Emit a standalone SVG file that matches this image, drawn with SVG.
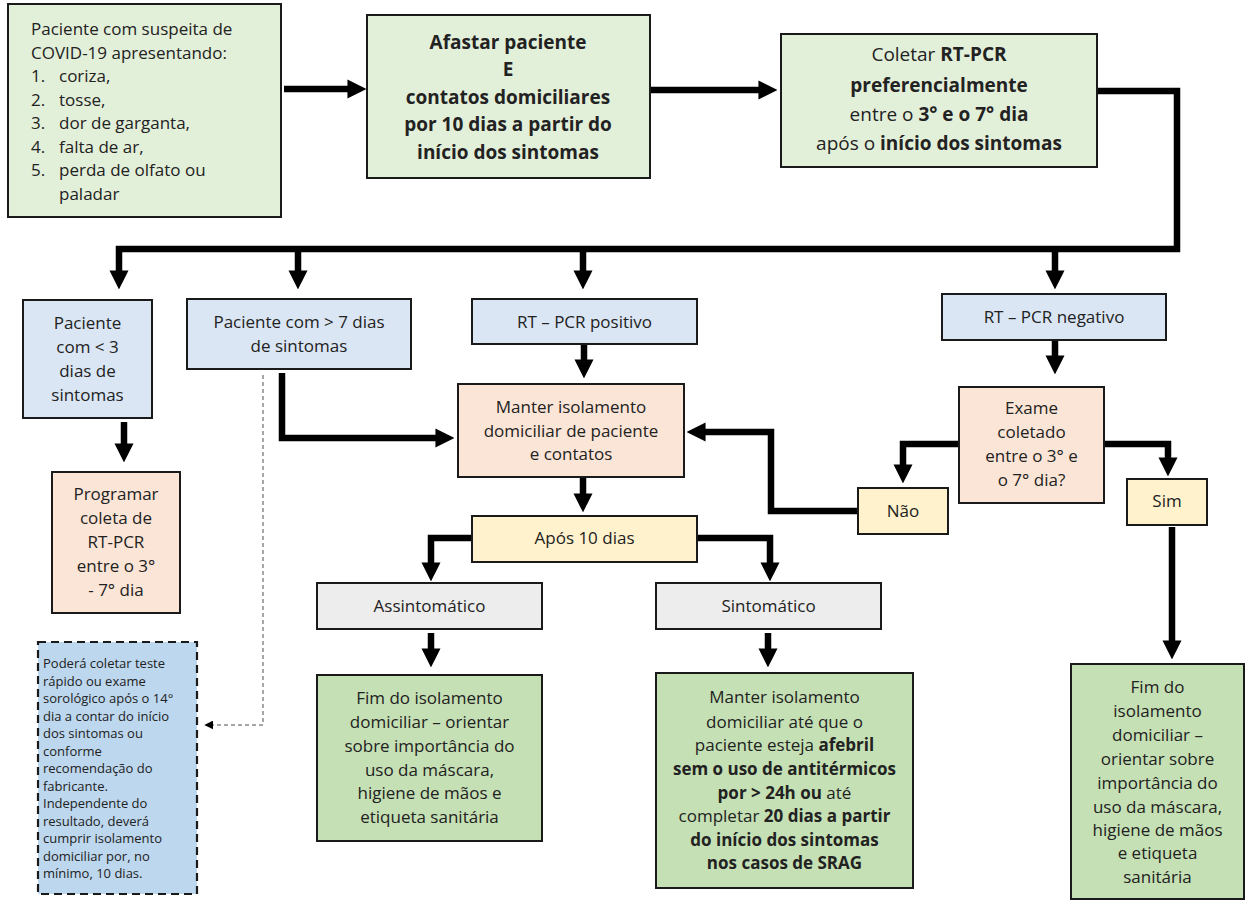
<svg xmlns="http://www.w3.org/2000/svg" width="1256" height="901" viewBox="0 0 1256 901">
<defs>
<style>
.box{stroke:#1a1a1a;stroke-width:2}
.g1{fill:#e2efd9}.g2{fill:#c5e0b4}.bl{fill:#dae6f4}.pe{fill:#fbe5d6}.ye{fill:#fff2cc}.gr{fill:#ededed}.db{fill:#bdd7ee;stroke:#1a1a1a;stroke-width:2.2;stroke-dasharray:8 5}
text{font-family:"Open Sans","Liberation Sans",sans-serif;font-size:17px;fill:#222}
.c{text-anchor:middle}
.b{font-weight:bold}
.l{font-size:19px}
.s{font-size:13px}
.ln{fill:none;stroke:#000;stroke-width:6.5;stroke-linejoin:miter}
.dl{fill:none;stroke:#8a8a8a;stroke-width:1.5;stroke-dasharray:4 3}
</style>
<marker id="ah" viewBox="0 0 10 10" refX="0.3" refY="5" markerWidth="19" markerHeight="20" markerUnits="userSpaceOnUse" orient="auto"><path d="M0,0 L10,5 L0,10 z" fill="#000"/></marker>
<marker id="sh" viewBox="0 0 10 10" refX="0.3" refY="5" markerWidth="9" markerHeight="9" markerUnits="userSpaceOnUse" orient="auto"><path d="M0,0 L10,5 L0,10 z" fill="#000"/></marker>
</defs>
<rect width="1256" height="901" fill="#fff"/>

<g id="connectors">
<path class="ln" d="M284,89 H348" marker-end="url(#ah)"/>
<path class="ln" d="M650,90 H759" marker-end="url(#ah)"/>
<path class="ln" d="M1097,91 H1177 V249 H119 V271" marker-end="url(#ah)"/>
<path class="ln" d="M298,249 V271" marker-end="url(#ah)"/>
<path class="ln" d="M583,249 V271" marker-end="url(#ah)"/>
<path class="ln" d="M1055,249 V271" marker-end="url(#ah)"/>
<path class="ln" d="M124,422 V444" marker-end="url(#ah)"/>
<path class="ln" d="M282,373 V438 H436" marker-end="url(#ah)"/>
<path class="ln" d="M584,344 V360" marker-end="url(#ah)"/>
<path class="ln" d="M583,477 V494" marker-end="url(#ah)"/>
<path class="ln" d="M472,538 H431 V563" marker-end="url(#ah)"/>
<path class="ln" d="M697,538 H770 V563" marker-end="url(#ah)"/>
<path class="ln" d="M431,633 V649" marker-end="url(#ah)"/>
<path class="ln" d="M768,633 V649" marker-end="url(#ah)"/>
<path class="ln" d="M1055,340 V356" marker-end="url(#ah)"/>
<path class="ln" d="M959,444 H903 V465" marker-end="url(#ah)"/>
<path class="ln" d="M1104,444 H1168 V458" marker-end="url(#ah)"/>
<path class="ln" d="M858,511 H771 V432 H705" marker-end="url(#ah)"/>
<path class="ln" d="M1172,527 V641" marker-end="url(#ah)"/>
<path class="dl" d="M263,375 V725 H213" marker-end="url(#sh)"/>
</g>

<g id="n-suspeita">
<rect class="box g1" x="8" y="4" width="273" height="213"/>
<text x="31" y="35">Paciente com suspeita de</text>
<text x="31" y="58.5">COVID-19 apresentando:</text>
<text x="31" y="82">1.</text><text x="59" y="82">coriza,</text>
<text x="31" y="105.5">2.</text><text x="59" y="105.5">tosse,</text>
<text x="31" y="129">3.</text><text x="59" y="129">dor de garganta,</text>
<text x="31" y="152.5">4.</text><text x="59" y="152.5">falta de ar,</text>
<text x="31" y="176">5.</text><text x="59" y="176">perda de olfato ou</text>
<text x="59" y="199.5">paladar</text>
</g>

<g id="n-afastar">
<rect class="box g1" x="367" y="15" width="283" height="163"/>
<text class="c b l" x="508" y="49">Afastar paciente</text>
<text class="c b l" x="508" y="76">E</text>
<text class="c b l" x="508" y="104">contatos domiciliares</text>
<text class="c b l" x="508" y="131">por 10 dias a partir do</text>
<text class="c b l" x="508" y="159">início dos sintomas</text>
</g>

<g id="n-coletar">
<rect class="box g1" x="781" y="34" width="316" height="133"/>
<text class="c l" x="939" y="61">Coletar <tspan class="b">RT-PCR</tspan></text>
<text class="c b l" x="939" y="92">preferencialmente</text>
<text class="c l" x="939" y="121">entre o <tspan class="b">3° e o 7° dia</tspan></text>
<text class="c l" x="939" y="150">após o <tspan class="b">início dos sintomas</tspan></text>
</g>

<g id="n-menos3">
<rect class="box bl" x="23" y="300" width="129" height="118"/>
<text class="c" x="87.5" y="329">Paciente</text>
<text class="c" x="87.5" y="353">com &lt; 3</text>
<text class="c" x="87.5" y="377">dias de</text>
<text class="c" x="87.5" y="401">sintomas</text>
</g>

<g id="n-mais7">
<rect class="box bl" x="187" y="299" width="224" height="70"/>
<text class="c" x="299" y="328">Paciente com &gt; 7 dias</text>
<text class="c" x="299" y="352">de sintomas</text>
</g>

<g id="n-positivo">
<rect class="box bl" x="472" y="299" width="225" height="45"/>
<text class="c" x="584.5" y="328">RT – PCR positivo</text>
</g>

<g id="n-negativo">
<rect class="box bl" x="942" y="294" width="224" height="46"/>
<text class="c" x="1054" y="323">RT – PCR negativo</text>
</g>

<g id="n-programar">
<rect class="box pe" x="52" y="472" width="128" height="141"/>
<text class="c" x="116" y="500">Programar</text>
<text class="c" x="116" y="524">coleta de</text>
<text class="c" x="116" y="548">RT-PCR</text>
<text class="c" x="116" y="572">entre o 3°</text>
<text class="c" x="116" y="596">- 7° dia</text>
</g>

<g id="n-manter">
<rect class="box pe" x="458" y="384" width="226" height="93"/>
<text class="c" x="571" y="413">Manter isolamento</text>
<text class="c" x="571" y="437">domiciliar de paciente</text>
<text class="c" x="571" y="460">e contatos</text>
</g>

<g id="n-exame">
<rect class="box pe" x="959" y="387" width="145" height="116"/>
<text class="c" x="1031.5" y="414">Exame</text>
<text class="c" x="1031.5" y="438">coletado</text>
<text class="c" x="1031.5" y="462">entre o 3° e</text>
<text class="c" x="1031.5" y="486">o 7° dia?</text>
</g>

<g id="n-nao">
<rect class="box ye" x="858" y="488" width="90" height="46"/>
<text class="c" x="903" y="517">Não</text>
</g>

<g id="n-sim">
<rect class="box ye" x="1127" y="479" width="80" height="46"/>
<text class="c" x="1167" y="507">Sim</text>
</g>

<g id="n-apos">
<rect class="box ye" x="472" y="516" width="225" height="46"/>
<text class="c" x="584.5" y="544">Após 10 dias</text>
</g>

<g id="n-assint">
<rect class="box gr" x="317" y="583" width="225" height="46"/>
<text class="c" x="429.5" y="612">Assintomático</text>
</g>

<g id="n-sint">
<rect class="box gr" x="656" y="583" width="225" height="46"/>
<text class="c" x="768.5" y="612">Sintomático</text>
</g>

<g id="n-fim1">
<rect class="box g2" x="317" y="675" width="225" height="166"/>
<text class="c" x="429.5" y="704">Fim do isolamento</text>
<text class="c" x="429.5" y="728">domiciliar – orientar</text>
<text class="c" x="429.5" y="752">sobre importância do</text>
<text class="c" x="429.5" y="776">uso da máscara,</text>
<text class="c" x="429.5" y="799">higiene de mãos e</text>
<text class="c" x="429.5" y="823">etiqueta sanitária</text>
</g>

<g id="n-manter2">
<rect class="box g2" x="656" y="673" width="257" height="215"/>
<text class="c" x="784.5" y="703">Manter isolamento</text>
<text class="c" x="784.5" y="728">domiciliar até que o</text>
<text class="c" x="784.5" y="751">paciente esteja <tspan class="b">afebril</tspan></text>
<text class="c b" x="784.5" y="775">sem o uso de antitérmicos</text>
<text class="c" x="784.5" y="799"><tspan class="b">por &gt; 24h ou</tspan> até</text>
<text class="c" x="784.5" y="822">completar <tspan class="b">20 dias a partir</tspan></text>
<text class="c b" x="784.5" y="846">do início dos sintomas</text>
<text class="c b" x="784.5" y="869">nos casos de SRAG</text>
</g>

<g id="n-fim2">
<rect class="box g2" x="1071" y="664" width="173" height="235"/>
<text class="c" x="1157.5" y="693">Fim do</text>
<text class="c" x="1157.5" y="717">isolamento</text>
<text class="c" x="1157.5" y="741">domiciliar –</text>
<text class="c" x="1157.5" y="765">orientar sobre</text>
<text class="c" x="1157.5" y="789">importância do</text>
<text class="c" x="1157.5" y="813">uso da máscara,</text>
<text class="c" x="1157.5" y="836">higiene de mãos</text>
<text class="c" x="1157.5" y="859">e etiqueta</text>
<text class="c" x="1157.5" y="883">sanitária</text>
</g>

<g id="n-nota">
<rect class="db" x="38" y="642" width="159" height="252"/>
<text class="s" x="43" y="668">Poderá coletar teste</text>
<text class="s" x="43" y="685.5">rápido ou exame</text>
<text class="s" x="43" y="703">sorológico após o 14°</text>
<text class="s" x="43" y="720.5">dia a contar do início</text>
<text class="s" x="43" y="738">dos sintomas ou</text>
<text class="s" x="43" y="755.5">conforme</text>
<text class="s" x="43" y="773">recomendação do</text>
<text class="s" x="43" y="790.5">fabricante.</text>
<text class="s" x="43" y="808">Independente do</text>
<text class="s" x="43" y="825.5">resultado, deverá</text>
<text class="s" x="43" y="843">cumprir isolamento</text>
<text class="s" x="43" y="860.5">domiciliar por, no</text>
<text class="s" x="43" y="878">mínimo, 10 dias.</text>
</g>
</svg>
